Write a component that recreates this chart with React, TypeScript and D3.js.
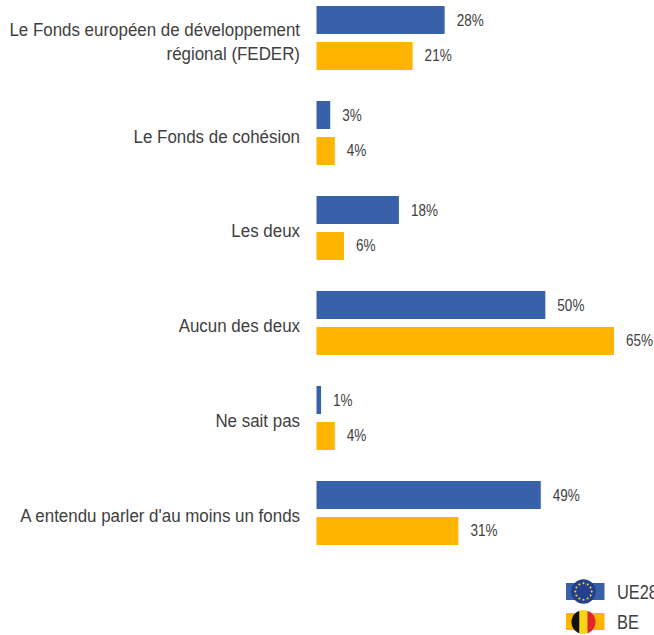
import React from "react";
import * as d3 from "d3";

const categories = [
  ["Le Fonds européen de développement", "régional (FEDER)"],
  ["Le Fonds de cohésion"],
  ["Les deux"],
  ["Aucun des deux"],
  ["Ne sait pas"],
  ["A entendu parler d'au moins un fonds"],
];
const ue28 = [28, 3, 18, 50, 1, 49];
const be = [21, 4, 6, 65, 4, 31];
const seriesNames = ["UE28", "BE"];
const seriesColors = ["#3762aa", "#ffb400"];

const x = d3.scaleLinear().domain([0, 65]).range([316.5, 614]);
const yOuter = d3.scaleBand<number>().domain(d3.range(6)).range([-9.5, 560.5]);
const yInner = d3.scaleBand<number>().domain([0, 1]).range([15.5, 79.5]).paddingInner(0.222);
const yLabel = d3.scaleLinear().domain([0, 5]).range([48, 521.5]);

const starAngles = d3.range(12).map((i) => (i * Math.PI) / 6);
const TXT = "#404040";
const FONT = "'Liberation Sans', Arial, sans-serif";

function Label({ x: px, y, anchor, size, sx, children }: any) {
  return (
    <text
      transform={`translate(${px},${y}) scale(${sx},1)`}
      textAnchor={anchor}
      fontSize={size}
      fontFamily={FONT}
      fill={TXT}
    >
      {children}
    </text>
  );
}

export default function App() {
  const legendY = [592, 622];
  return (
    <svg
      width={654}
      height={635}
      style={{ position: "absolute", left: 0, top: 0, background: "#fff" }}
    >
      <defs>
        <clipPath id="be-flag">
          <circle cx={583.5} cy={622} r={12} />
        </clipPath>
      </defs>
      {categories.map((lines, i) => {
        const y0 = yOuter(i)!;
        return (
          <g key={i}>
            {lines.map((l, j) => (
              <Label key={j} x={300} y={yLabel(i) + (j - (lines.length - 1) / 2) * 23.5} anchor="end" size={18.5} sx={0.915}>
                {l}
              </Label>
            ))}
            {[ue28[i], be[i]].map((v, s) => {
              const by = y0 + yInner(s)!;
              const bh = yInner.bandwidth();
              return (
                <g key={s}>
                  <rect x={x(0)} y={by} width={x(v) - x(0)} height={bh} fill={seriesColors[s]} />
                  <Label x={x(v) + 12} y={by + bh / 2 + 5.5} anchor="start" size={16.5} sx={0.82}>
                    {v}%
                  </Label>
                </g>
              );
            })}
          </g>
        );
      })}
      {seriesNames.map((n, s) => (
        <g key={n}>
          <rect x={566} y={legendY[s] - 9} width={38.5} height={17} fill={seriesColors[s]} />
          <Label x={617} y={legendY[s] + 7} anchor="start" size={20} sx={0.82}>
            {n}
          </Label>
        </g>
      ))}
      <circle cx={583.5} cy={591.5} r={12} fill="#24408f" stroke="#1b2f6e" strokeWidth={0.5} />
      {starAngles.map((a, i) => (
        <circle key={i} cx={583.5 + 8.2 * Math.cos(a)} cy={591.5 + 8.2 * Math.sin(a)} r={1} fill="#f5d92a" />
      ))}
      <g clipPath="url(#be-flag)">
        <rect x={571} y={608} width={8.5} height={28} fill="#111" />
        <rect x={579.5} y={608} width={8} height={28} fill="#f7d516" />
        <rect x={587.5} y={608} width={9} height={28} fill="#e0272e" />
      </g>
    </svg>
  );
}
